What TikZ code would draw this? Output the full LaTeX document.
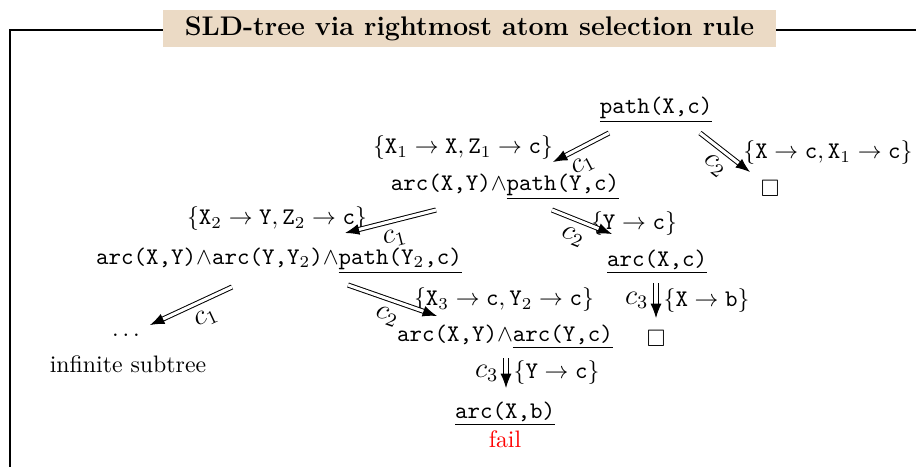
\documentclass[tikz,border=0pt]{standalone}
\usepackage{amssymb}
\usetikzlibrary{arrows.meta,calc}
\definecolor{titlebg}{RGB}{235,218,197}
\newcommand{\tv}[1]{\mathtt{#1}}
\begin{document}
\begin{tikzpicture}[x=0.42pt,y=-0.42pt,
  dar/.style={double, double distance=1.3pt, line width=0.42pt, -{Latex[length=6pt,width=4.6pt]}},
  goal/.style={inner sep=1pt, font=\ttfamily},
  subst/.style={inner sep=1pt},
  clab/.style={inner sep=1pt, sloped, below=2.5pt, font=\large},
  vlab/.style={inner sep=3pt, font=\large},
  frameline/.style={line width=0.45pt}]
\useasboundingbox (0,0) rectangle (916,466);
% frame
\node[fill=titlebg, minimum width=613*0.42pt, minimum height=37*0.42pt, inner sep=0pt, font=\fontsize{11.3}{13}\selectfont\bfseries] (title) at (469.5,28.5) {SLD-tree via rightmost atom selection rule};
\draw[frameline] (title.west |- 0,30) -- (10,30) -- (10,470);
\draw[frameline] (title.east |- 0,30) -- (920,30);
% goals
\node[goal] (root) at (656,110) {\underline{path(X,c)}};
\node[goal] (n1) at (505,187) {arc(X,Y)$\wedge$\underline{path(Y,c)}};
\node[inner sep=1pt] (e1) at (770,188) {$\square$};
\node[goal] (n2) at (279,261) {arc(X,Y)$\wedge$arc(Y,Y$_2$)$\wedge$\underline{path(Y$_2$,c)}};
\node[goal] (n3) at (657,262) {\underline{arc(X,c)}};
\node[inner sep=1pt] (e2) at (656,338) {$\square$};
\node[inner sep=1pt] (dots) at (126,335) {$\dots$};
\node[inner sep=1pt] (inf) at (128,364) {infinite subtree};
\node[goal] (n4) at (505,337) {arc(X,Y)$\wedge$\underline{arc(Y,c)}};
\node[goal] (n5) at (505,414) {\underline{arc(X,b)}};
\node[inner sep=1pt, text=red] (fail) at (505,439) {fail};
% substitutions
\node[subst] (s1) at (463,148) {$\{\tv{X}_1\to\tv{X},\tv{Z}_1\to\tv{c}\}$};
\node[subst] (s2) at (828,153) {$\{\tv{X}\to\tv{c},\tv{X}_1\to\tv{c}\}$};
\node[subst] (s3) at (277,219) {$\{\tv{X}_2\to\tv{Y},\tv{Z}_2\to\tv{c}\}$};
\node[subst] (s4) at (634,224) {$\{\tv{Y}\to\tv{c}\}$};
\node[subst] (s6) at (504,300) {$\{\tv{X}_3\to\tv{c},\tv{Y}_2\to\tv{c}\}$};
% arrows
\draw[dar] ($(root)+(-47,23)$) -- node[clab, pos=0.6] (l1) {$c_1$} ($(n1)+(48,-25)$);
\draw[dar] ($(root)+(44,23)$) -- node[clab] (l2) {$c_2$} ($(e1)+(-20,-16)$);
\draw[dar] ($(n1)+(-69,23)$) -- node[clab] (l3) {$c_1$} ($(n2)+(66,-28)$);
\draw[dar] ($(n1)+(47,23)$) -- node[clab, pos=0.45] (l4) {$c_2$} ($(n3)+(-45,-28)$);
\draw[dar] ($(n2)+(-47,26)$) -- node[clab, pos=0.4] (l5) {$c_1$} ($(dots)+(24,-10)$);
\draw[dar] ($(n2)+(69,24)$) -- node[clab] (l6) {$c_2$} ($(n4)+(-68,-21)$);
\draw[dar] ($(n3)+(-1,21)$) -- node[vlab, left] (l7) {$c_3$} node[right, inner sep=3pt] (s5) {$\{\tv{X}\to\tv{b}\}$} ($(e2)+(0,-20)$);
\draw[dar] ($(n4)+(1,21)$) -- node[vlab, left] (l8) {$c_3$} node[right, inner sep=3pt] (s7) {$\{\tv{Y}\to\tv{c}\}$} ($(n5)+(1,-26)$);
\end{tikzpicture}
\end{document}
